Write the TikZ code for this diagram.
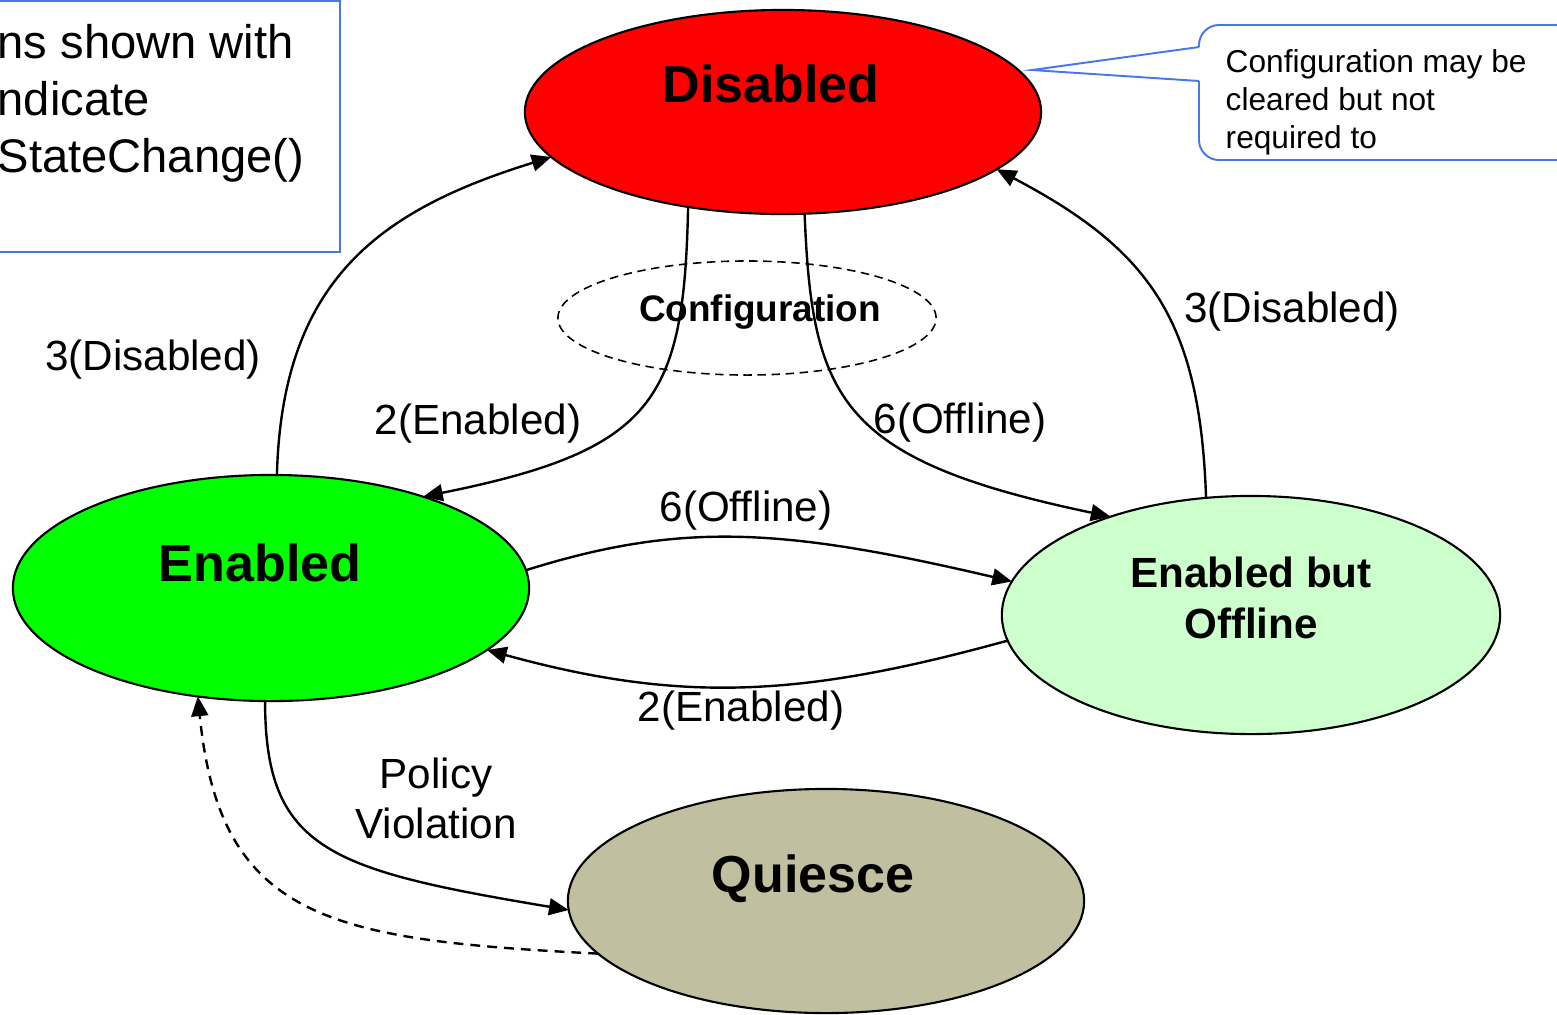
\documentclass[tikz,border=0pt]{standalone}
\usepackage{fontspec}
\setmainfont{Liberation Sans}
\usetikzlibrary{arrows.meta,shapes.geometric}
\definecolor{noteblue}{RGB}{70,120,235}
\definecolor{quiescefill}{RGB}{192,192,160}
\definecolor{offlinefill}{RGB}{204,255,204}
\begin{document}
\begin{tikzpicture}[x=0.01cm,y=-0.01cm,
  state/.style={ellipse, draw=black, line width=0.6pt, inner sep=0pt, outer sep=0pt},
  statetext/.style={font=\fontsize{14.8}{17}\selectfont\bfseries, inner sep=0pt},
  edgelabel/.style={font=\fontsize{12}{14.2}\selectfont, inner sep=0pt, align=center},
  trans/.style={line width=0.68pt, -{Triangle[length=5.6pt,width=4.8pt]}},
  notebox/.style={draw=noteblue, line width=0.55pt},
]
\useasboundingbox (0,0) rectangle (1557,1014);
\clip (0,0) rectangle (1557,1014);

% note box at the upper left
\draw[notebox] (-20,1) rectangle (340,252);
\node[anchor=west, inner sep=0pt, align=left,
      font=\fontsize{13.4}{16.2}\selectfont] (note) at (-3,103)
  {ns shown with\\ndicate\\StateChange()};

% states
\node[state, fill=red, minimum width=5.16cm, minimum height=2.04cm] (dis) at (783,112) {};
\node[state, fill=green, minimum width=5.16cm, minimum height=2.26cm] (en) at (271,588) {};
\node[state, fill=offlinefill, minimum width=4.98cm, minimum height=2.38cm] (ebo) at (1251,615) {};
\node[state, fill=quiescefill, minimum width=5.16cm, minimum height=2.24cm] (q) at (826,901) {};
\node[ellipse, draw, line width=0.45pt, dash pattern=on 2.4pt off 1.6pt,
      minimum width=3.78cm, minimum height=1.14cm, inner sep=0pt] (cfg) at (747,318) {};

\node[statetext] (distext) at (771,84) {Disabled};
\node[statetext] (entext) at (260,563) {Enabled};
\node[statetext, font=\fontsize{12}{14.5}\selectfont\bfseries, align=center] (ebotext) at (1251,598) {Enabled but\\Offline};
\node[statetext] (qtext) at (813,879) {Quiesce};
\node[inner sep=0pt, font=\fontsize{10.5}{12}\selectfont\bfseries] (cfgtext) at (760,312) {Configuration};

% transitions
\draw[trans] (en.87.5) .. controls (282,280) and (380,210) .. (dis.191);
\draw[trans] (dis.225) .. controls (684,400) and (655,450) .. (en.31);
\draw[trans] (dis.282) .. controls (812,400) and (840,460) .. (ebo.145);
\draw[trans] (ebo.111) .. controls (1200,320) and (1150,250) .. (dis.345.5);
\draw[trans] (en.4) .. controls (680,522) and (780,527) .. (ebo.172);
\draw[trans] (ebo.186.5) .. controls (800,698) and (680,703) .. (en.344.7);
\draw[trans] (en.267) .. controls (265,850) and (330,870) .. (q.182);
\draw[trans, dash pattern=on 2.8pt off 2pt] (q.193) .. controls (330,940) and (220,920) .. (en.236);

% transition labels
\node[edgelabel] (l1) at (153,360) {3(Disabled)};
\node[edgelabel] (l2) at (478,424) {2(Enabled)};
\node[edgelabel] (l3) at (960,423) {6(Offline)};
\node[edgelabel] (l4) at (1292,312) {3(Disabled)};
\node[edgelabel] (l5) at (746,511) {6(Offline)};
\node[edgelabel] (l6) at (741,711) {2(Enabled)};
\node[edgelabel] (l7) at (436,798) {Policy\\Violation};

% callout on the disabled state
\coordinate (tip) at (1032,70);
\draw[notebox, rounded corners=0.2cm]
  (1199,81) -- (1199,160) -- (1575,160) -- (1575,25) -- (1199,25) -- (1199,47);
\draw[notebox] (1199,47) -- (tip) -- (1199,81);
\node[anchor=west, inner sep=0pt, align=left,
      font=\fontsize{9}{10.8}\selectfont] (calltext) at (1225,102)
  {Configuration may be\\cleared but not\\required to};
\end{tikzpicture}
\end{document}
